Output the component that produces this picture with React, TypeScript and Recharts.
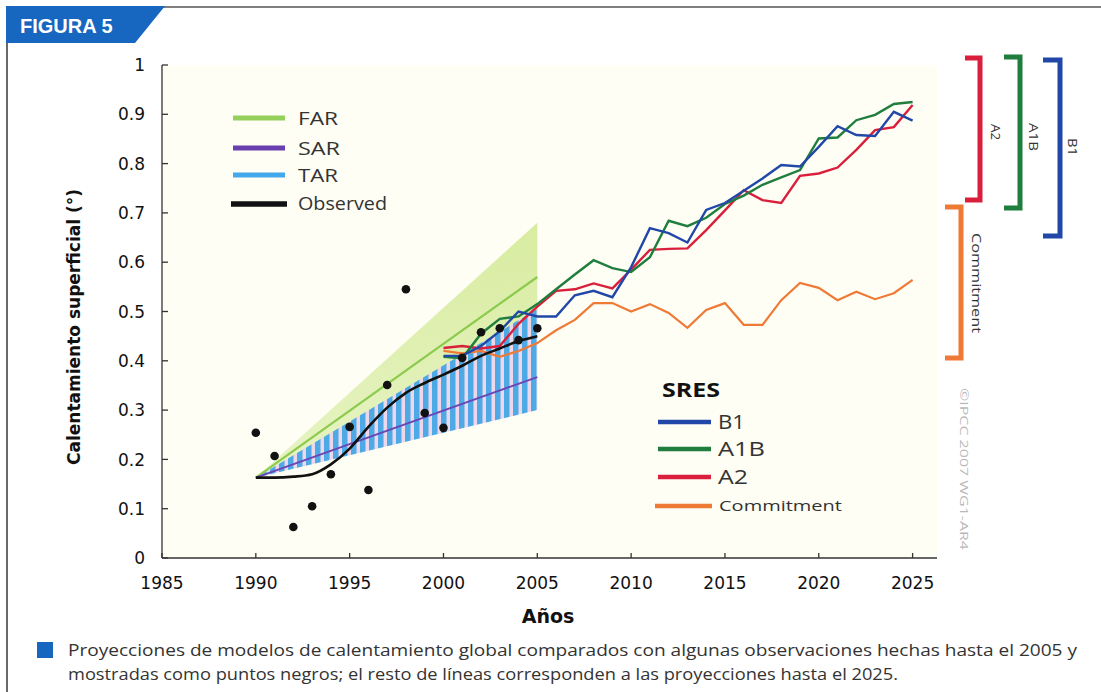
import React from 'react';
import { ComposedChart, Line, Area, XAxis, YAxis, CartesianGrid } from 'recharts';

// ---- data ----
const xTicks = [1985, 1990, 1995, 2000, 2005, 2010, 2015, 2020, 2025];
const yTicks = [0, 0.1, 0.2, 0.3, 0.4, 0.5, 0.6, 0.7, 0.8, 0.9, 1];

const obsYears = [1990, 1991, 1992, 1993, 1994, 1995, 1996, 1997, 1998, 1999, 2000, 2001, 2002, 2003, 2004, 2005];
const observedLine = [0.163, 0.163, 0.165, 0.17, 0.19, 0.222, 0.266, 0.305, 0.335, 0.355, 0.372, 0.39, 0.41, 0.425, 0.44, 0.45];
const observedDots = [0.254, 0.207, 0.063, 0.105, 0.17, 0.266, 0.138, 0.351, 0.545, 0.294, 0.264, 0.406, 0.458, 0.466, 0.442, 0.466];

const projYears = [1990, 2005];
const farLine = [0.163, 0.57];
const farLow = [0.163, 0.45];
const farHigh = [0.163, 0.68];
const sarLine = [0.163, 0.367];
const tarLow = [0.163, 0.3];
const tarHigh = [0.163, 0.505];

const sresYears = [2000, 2001, 2002, 2003, 2004, 2005, 2006, 2007, 2008, 2009, 2010, 2011, 2012, 2013, 2014, 2015, 2016, 2017, 2018, 2019, 2020, 2021, 2022, 2023, 2024, 2025];
const b1 = [0.41, 0.41, 0.43, 0.46, 0.5, 0.49, 0.49, 0.533, 0.542, 0.529, 0.59, 0.669, 0.659, 0.64, 0.706, 0.72, 0.745, 0.77, 0.797, 0.794, 0.834, 0.876, 0.858, 0.856, 0.905, 0.887];
const a1b = [0.408, 0.405, 0.455, 0.485, 0.49, 0.515, 0.545, 0.575, 0.604, 0.588, 0.58, 0.61, 0.684, 0.673, 0.69, 0.718, 0.735, 0.757, 0.772, 0.787, 0.851, 0.853, 0.888, 0.899, 0.921, 0.925];
const a2 = [0.426, 0.43, 0.425, 0.43, 0.475, 0.51, 0.542, 0.545, 0.557, 0.547, 0.585, 0.625, 0.627, 0.628, 0.665, 0.705, 0.746, 0.726, 0.72, 0.775, 0.78, 0.792, 0.828, 0.868, 0.874, 0.919];
const commitment = [0.42, 0.415, 0.42, 0.408, 0.42, 0.436, 0.462, 0.483, 0.517, 0.517, 0.5, 0.515, 0.497, 0.467, 0.503, 0.517, 0.473, 0.473, 0.523, 0.558, 0.548, 0.523, 0.54, 0.525, 0.537, 0.564];

// ---- table built from arrays ----
const allYears: number[] = Array.from(new Set([...obsYears, ...sresYears])).sort((a, b) => a - b);
const table = allYears.map((year) => {
  const row: any = { year };
  const oi = obsYears.indexOf(year);
  if (oi >= 0) {
    row.observed = observedLine[oi];
    row.obsDot = observedDots[oi];
  }
  const pi = projYears.indexOf(year);
  if (pi >= 0) {
    row.far = farLine[pi];
    row.farBand = [farLow[pi], farHigh[pi]];
    row.sar = sarLine[pi];
    row.tarBand = [tarLow[pi], tarHigh[pi]];
  }
  const si = sresYears.indexOf(year);
  if (si >= 0) {
    row.b1 = b1[si];
    row.a1b = a1b[si];
    row.a2 = a2[si];
    row.commitment = commitment[si];
  }
  return row;
});

const C = {
  far: '#8ccb4e',
  sar: '#6a46b4',
  b1: '#2148a8',
  a1b: '#1f7d3e',
  a2: '#d91f3c',
  com: '#ef7a35',
  tab: '#1766bf',
  axis: '#333',
};

const tickFont = '"DejaVu Sans", "Liberation Sans", Arial, sans-serif';
const legendFont = '"Open Sans", "Noto Sans", sans-serif';

const XTick = (props: any) => {
  const { x, y, payload } = props;
  return (
    <g>
      <line x1={x} y1={y} x2={x} y2={y - 5} stroke={C.axis} strokeWidth={1.3} />
      <text x={x} y={y + 31} textAnchor="middle" fontFamily={tickFont} fontSize={17} fill="#111">
        {payload.value}
      </text>
    </g>
  );
};

const YTick = (props: any) => {
  const { x, y, payload } = props;
  return (
    <g>
      <line x1={x} y1={y} x2={x + 6} y2={y} stroke={C.axis} strokeWidth={1.3} />
      <text x={x - 17} y={y} dy="0.36em" textAnchor="end" fontFamily={tickFont} fontSize={17} fill="#111">
        {String(Math.round(payload.value * 10) / 10)}
      </text>
    </g>
  );
};

const Bracket = ({ x, y1, y2, arm, color }: any) => (
  <path d={`M ${x - arm} ${y1} L ${x} ${y1} L ${x} ${y2} L ${x - arm} ${y2}`} fill="none" stroke={color} strokeWidth={5} strokeLinejoin="miter" />
);

export default function App() {
  return (
    <div style={{ position: 'absolute', left: 0, top: 0, width: 1101, height: 692, background: '#fff', overflow: 'hidden' }}>
      <div style={{ position: 'absolute', left: 0, top: 0 }}>
        <ComposedChart width={1101} height={692} data={table} margin={{ top: 65, right: 164, bottom: 104, left: 100 }}>
          <defs>
            <pattern id="tarHatch" x="0" y="0" width="9" height="12" patternUnits="userSpaceOnUse">
              <rect x="0" y="0" width="9" height="12" fill="#ecd6ea" />
              <rect x="0" y="0" width="5.5" height="12" fill="#45a5e6" />
            </pattern>
            <linearGradient id="farGrad" x1="0" y1="0" x2="0" y2="1">
              <stop offset="0%" stopColor="#d6eb9c" />
              <stop offset="100%" stopColor="#e6f3c2" />
            </linearGradient>
          </defs>
          <CartesianGrid horizontal={false} vertical={false} fill="#fefef4" stroke="none" />
          <XAxis
            dataKey="year"
            type="number"
            domain={[1985, 2026.3]}
            ticks={xTicks}
            interval={0}
            allowDataOverflow
            height={30}
            tickSize={0}
            tickMargin={0}
            tickLine={false}
            tick={(p: any) => <XTick {...p} />}
            axisLine={{ stroke: C.axis, strokeWidth: 1.3 }}
          />
          <XAxis
            xAxisId="top"
            dataKey="year"
            orientation="top"
            type="number"
            domain={[1985, 2026.3]}
            allowDataOverflow
            height={0}
            tick={false}
            tickLine={false}
            axisLine={{ stroke: C.axis, strokeWidth: 1.3 }}
          />
          <YAxis
            type="number"
            domain={[0, 1]}
            ticks={yTicks}
            interval={0}
            width={62}
            tickSize={0}
            tickMargin={0}
            tickLine={false}
            tick={(p: any) => <YTick {...p} />}
            axisLine={{ stroke: C.axis, strokeWidth: 1.3 }}
          />
          <YAxis
            yAxisId="right"
            orientation="right"
            type="number"
            domain={[0, 1]}
            width={0}
            tick={false}
            tickLine={false}
            axisLine={{ stroke: C.axis, strokeWidth: 1.3 }}
          />
          <Area dataKey="farBand" type="linear" stroke="none" fill="url(#farGrad)" fillOpacity={0.95} connectNulls isAnimationActive={false} activeDot={false} />
          <Area dataKey="tarBand" type="linear" stroke="none" fill="url(#tarHatch)" fillOpacity={0.95} connectNulls isAnimationActive={false} activeDot={false} />
          <Line dataKey="far" type="linear" stroke={C.far} strokeWidth={2.2} dot={false} activeDot={false} connectNulls isAnimationActive={false} />
          <Line dataKey="sar" type="linear" stroke={C.sar} strokeWidth={1.8} dot={false} activeDot={false} connectNulls isAnimationActive={false} />
          <Line dataKey="commitment" type="linear" stroke={C.com} strokeWidth={2.2} dot={false} activeDot={false} connectNulls isAnimationActive={false} />
          <Line dataKey="a2" type="linear" stroke={C.a2} strokeWidth={2.4} dot={false} activeDot={false} connectNulls isAnimationActive={false} />
          <Line dataKey="a1b" type="linear" stroke={C.a1b} strokeWidth={2.4} dot={false} activeDot={false} connectNulls isAnimationActive={false} />
          <Line dataKey="b1" type="linear" stroke={C.b1} strokeWidth={2.4} dot={false} activeDot={false} connectNulls isAnimationActive={false} />
          <Line dataKey="observed" type="monotone" stroke="#111" strokeWidth={2.6} dot={false} activeDot={false} connectNulls isAnimationActive={false} />
          <Line dataKey="obsDot" type="linear" stroke="none" dot={{ r: 4.3, fill: '#111', stroke: 'none' }} activeDot={false} isAnimationActive={false} />
        </ComposedChart>
      </div>

      <svg width={1101} height={692} style={{ position: 'absolute', left: 0, top: 0, pointerEvents: 'none' }}>
        {/* frame + tab */}
        <line x1={160} y1={7} x2={1101} y2={7} stroke="#555" strokeWidth={1.5} />
        <line x1={7} y1={42} x2={7} y2={692} stroke="#444" strokeWidth={1.6} />
        <polygon points="6,6 165,6 135,43 6,43" fill={C.tab} />
        <text x={20} y={33} fill="#fff" fontFamily='"Liberation Sans", Arial, sans-serif' fontWeight="bold" fontSize={20}>
          FIGURA 5
        </text>

        {/* axis titles */}
        <text x={0} y={0} transform="translate(80,327) rotate(-90)" textAnchor="middle" fontFamily={tickFont} fontWeight="bold" fontSize={17} fill="#111">
          Calentamiento superficial (°)
        </text>
        <text x={548} y={623} textAnchor="middle" fontFamily={tickFont} fontWeight="bold" fontSize={19} fill="#111">
          Años
        </text>

        {/* top-left legend */}
        <line x1={233} y1={118} x2={285} y2={118} stroke="#94d05a" strokeWidth={5} />
        <line x1={233} y1={148} x2={285} y2={148} stroke="#6a3fae" strokeWidth={5} />
        <line x1={233} y1={175} x2={285} y2={175} stroke="#44a8ec" strokeWidth={5} />
        <line x1={231} y1={204} x2={287} y2={204} stroke="#111" strokeWidth={5.5} />
        <text x={298} y={118} dy="0.36em" fontFamily={legendFont} fontSize={19} fill="#333" textLength={40} lengthAdjust="spacingAndGlyphs">FAR</text>
        <text x={298} y={148} dy="0.36em" fontFamily={legendFont} fontSize={19} fill="#333" textLength={42} lengthAdjust="spacingAndGlyphs">SAR</text>
        <text x={298} y={175} dy="0.36em" fontFamily={legendFont} fontSize={19} fill="#333" textLength={40} lengthAdjust="spacingAndGlyphs">TAR</text>
        <text x={298} y={204} dy="0.36em" fontFamily={legendFont} fontSize={18} fill="#333" textLength={89} lengthAdjust="spacingAndGlyphs">Observed</text>

        {/* SRES legend */}
        <text x={662} y={390} dy="0.36em" fontFamily={legendFont} fontWeight="bold" fontSize={19} fill="#111" textLength={58} lengthAdjust="spacingAndGlyphs">SRES</text>
        <line x1={658} y1={422} x2={711} y2={422} stroke={C.b1} strokeWidth={4.5} />
        <line x1={658} y1={449} x2={711} y2={449} stroke={C.a1b} strokeWidth={4.5} />
        <line x1={658} y1={477} x2={711} y2={477} stroke={C.a2} strokeWidth={4.5} />
        <line x1={655} y1={506} x2={712} y2={506} stroke={C.com} strokeWidth={4.5} />
        <text x={718} y={422} dy="0.36em" fontFamily={legendFont} fontSize={20} fill="#333" textLength={27} lengthAdjust="spacingAndGlyphs">B1</text>
        <text x={718} y={449} dy="0.36em" fontFamily={legendFont} fontSize={20} fill="#333" textLength={47} lengthAdjust="spacingAndGlyphs">A1B</text>
        <text x={718} y={477} dy="0.36em" fontFamily={legendFont} fontSize={20} fill="#333" textLength={30} lengthAdjust="spacingAndGlyphs">A2</text>
        <text x={719} y={506} dy="0.36em" fontFamily={legendFont} fontSize={15} fill="#333" textLength={123} lengthAdjust="spacingAndGlyphs">Commitment</text>

        {/* right brackets */}
        <Bracket x={980} y1={58} y2={200} arm={15} color={C.a2} />
        <Bracket x={1020} y1={57} y2={208} arm={16} color={C.a1b} />
        <Bracket x={1060} y1={60} y2={236} arm={17} color={C.b1} />
        <Bracket x={961} y1={207} y2={358} arm={16} color={C.com} />
        <text transform="translate(995,132) rotate(90)" textAnchor="middle" dy="0.36em" fontFamily={legendFont} fontSize={12} fill="#333" textLength={16} lengthAdjust="spacingAndGlyphs">A2</text>
        <text transform="translate(1033,137) rotate(90)" textAnchor="middle" dy="0.36em" fontFamily={legendFont} fontSize={12} fill="#333" textLength={28} lengthAdjust="spacingAndGlyphs">A1B</text>
        <text transform="translate(1072,147) rotate(90)" textAnchor="middle" dy="0.36em" fontFamily={legendFont} fontSize={12} fill="#333" textLength={18} lengthAdjust="spacingAndGlyphs">B1</text>
        <text transform="translate(977,283) rotate(90)" textAnchor="middle" dy="0.36em" fontFamily={legendFont} fontSize={13} fill="#333" textLength={100} lengthAdjust="spacingAndGlyphs">Commitment</text>
        <text transform="translate(964,469) rotate(90)" textAnchor="middle" dy="0.36em" fontFamily={legendFont} fontSize={11} fill="#b9b9b9" textLength={162} lengthAdjust="spacingAndGlyphs">©IPCC 2007 WG1-AR4</text>

        {/* caption */}
        <rect x={37} y={642} width={16} height={16} fill={C.tab} />
        <text x={68} y={656} fontFamily={legendFont} fontSize={17} fill="#333" textLength={1009} lengthAdjust="spacingAndGlyphs">
          Proyecciones de modelos de calentamiento global comparados con algunas observaciones hechas hasta el 2005 y
        </text>
        <text x={68} y={680} fontFamily={legendFont} fontSize={17} fill="#333" textLength={830} lengthAdjust="spacingAndGlyphs">
          mostradas como puntos negros; el resto de líneas corresponden a las proyecciones hasta el 2025.
        </text>
      </svg>
    </div>
  );
}
